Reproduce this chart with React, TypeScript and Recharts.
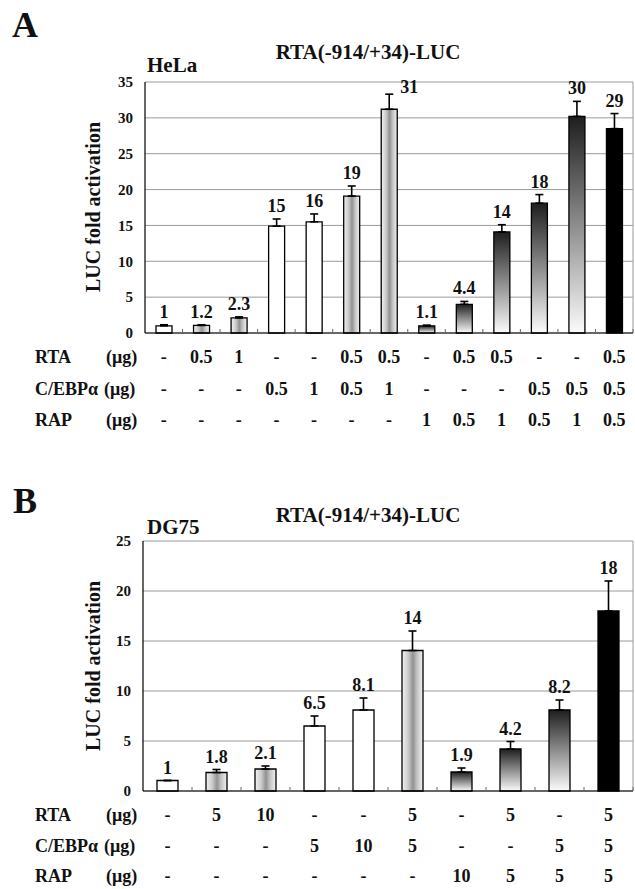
import React from 'react';
import { BarChart, Bar, XAxis, YAxis, CartesianGrid, ErrorBar, Cell, LabelList } from 'recharts';

const FONT = '"Liberation Serif", "Times New Roman", Times, serif';

// ---------- Panel A (HeLa) ----------
const categoriesA = ['a1', 'a2', 'a3', 'a4', 'a5', 'a6', 'a7', 'a8', 'a9', 'a10', 'a11', 'a12', 'a13'];
const valuesA = [1.0, 1.05, 2.1, 14.9, 15.5, 19.1, 31.2, 1.0, 4.0, 14.1, 18.1, 30.2, 28.5];
const errorsA = [0.15, 0.1, 0.15, 1.0, 1.1, 1.4, 2.1, 0.1, 0.4, 1.0, 1.2, 2.1, 2.1];
const labelsA = ['1', '1.2', '2.3', '15', '16', '19', '31', '1.1', '4.4', '14', '18', '30', '29'];
const rtaA = ['-', '0.5', '1', '-', '-', '0.5', '0.5', '-', '0.5', '0.5', '-', '-', '0.5'];
const cebpA = ['-', '-', '-', '0.5', '1', '0.5', '1', '-', '-', '-', '0.5', '0.5', '0.5'];
const rapA = ['-', '-', '-', '-', '-', '-', '-', '1', '0.5', '1', '0.5', '1', '0.5'];
const yTicksA = [0, 5, 10, 15, 20, 25, 30, 35];

// ---------- Panel B (DG75) ----------
const categoriesB = ['b1', 'b2', 'b3', 'b4', 'b5', 'b6', 'b7', 'b8', 'b9', 'b10'];
const valuesB = [1.05, 1.85, 2.2, 6.5, 8.1, 14.05, 1.9, 4.2, 8.1, 18.0];
const errorsB = [0, 0.3, 0.3, 1.0, 1.2, 1.95, 0.4, 0.75, 1.0, 3.0];
const labelsB = ['1', '1.8', '2.1', '6.5', '8.1', '14', '1.9', '4.2', '8.2', '18'];
const rtaB = ['-', '5', '10', '-', '-', '5', '-', '5', '-', '5'];
const cebpB = ['-', '-', '-', '5', '10', '5', '-', '-', '5', '5'];
const rapB = ['-', '-', '-', '-', '-', '-', '10', '5', '5', '5'];
const yTicksB = [0, 5, 10, 15, 20, 25];

const rowNames = ['RTA', 'C/EBPα', 'RAP'];

type Row = { cat: string; value: number; err: number[]; label: string; rta: string; cebp: string; rap: string };

function buildRows(cats: string[], vals: number[], errs: number[], labels: string[], rta: string[], cebp: string[], rap: string[]): Row[] {
  return cats.map((c, i) => ({ cat: c, value: vals[i], err: [0, errs[i]], label: labels[i], rta: rta[i], cebp: cebp[i], rap: rap[i] }));
}

const dataA = buildRows(categoriesA, valuesA, errorsA, labelsA, rtaA, cebpA, rapA);
const dataB = buildRows(categoriesB, valuesB, errorsB, labelsB, rtaB, cebpB, rapB);

function fillFor(r: Row, prefix: string) {
  const has = (v: string) => v !== '-';
  if (has(r.rta) && has(r.cebp) && has(r.rap)) return '#000000';
  if (has(r.rap)) return `url(#${prefix}-vgrad)`;
  if (has(r.rta)) return `url(#${prefix}-hgrad)`;
  return '#ffffff';
}

function makeLabel(data: Row[], domainMax: number) {
  return (props: any) => {
    const x = Number(props.x);
    const y = Number(props.y);
    const width = Number(props.width);
    const height = Number(props.height);
    let idx = props.index;
    if (idx === undefined || idx === null) idx = data.findIndex((d) => d.label === props.value);
    const row = data[idx];
    if (!row) return null;
    const pxPer = height / row.value;
    const errTop = y - row.err[1] * pxPer;
    const plotTop = y + height - domainMax * pxPer;
    let tx = x + width / 2;
    let ty = errTop - 7;
    let anchor: 'middle' | 'start' = 'middle';
    if (ty - 10 < plotTop) {
      tx = x + width / 2 + 11;
      ty = errTop - 1;
      anchor = 'start';
    }
    return (
      <text x={tx} y={ty} textAnchor={anchor} fontFamily={FONT} fontWeight="bold" fontSize={18} fill="#111">
        {row.label}
      </text>
    );
  };
}

function makeTick(data: Row[], baselines: number[], unitX: number[]) {
  return (props: any) => {
    const { x, y, payload, index } = props;
    const i = typeof index === 'number' ? index : data.findIndex((d) => d.cat === payload.value);
    const row = data[i];
    if (!row) return null;
    const half = payload && typeof payload.offset === 'number' && payload.offset > 0 ? payload.offset : 0;
    const vals = [row.rta, row.cebp, row.rap];
    return (
      <g>
        {half > 0 && <line x1={x + half} x2={x + half} y1={y} y2={y - 4} stroke="#666" strokeWidth={1} />}
        {vals.map((v, k) => (
          <text key={k} x={x} y={y + baselines[k]} textAnchor="middle" fontFamily={FONT} fontWeight="bold" fontSize={18} fill="#111">
            {v}
          </text>
        ))}
        {i === 0 &&
          rowNames.map((n, k) => (
            <g key={'n' + k}>
              <text x={35} y={y + baselines[k]} fontFamily={FONT} fontWeight="bold" fontSize={18} fill="#111">
                {n}
              </text>
              <text x={unitX[k]} y={y + baselines[k]} fontFamily={FONT} fontWeight="bold" fontSize={18} fill="#111">
                (μg)
              </text>
            </g>
          ))}
      </g>
    );
  };
}

function Gradients({ prefix }: { prefix: string }) {
  return (
    <defs>
      <linearGradient id={`${prefix}-hgrad`} x1="0" y1="0" x2="1" y2="0">
        <stop offset="0%" stopColor="#f2f2f2" />
        <stop offset="30%" stopColor="#cacaca" />
        <stop offset="52%" stopColor="#929292" />
        <stop offset="72%" stopColor="#c4c4c4" />
        <stop offset="100%" stopColor="#f2f2f2" />
      </linearGradient>
      <linearGradient id={`${prefix}-vgrad`} x1="0" y1="0" x2="0" y2="1">
        <stop offset="0%" stopColor="#1e1e1e" />
        <stop offset="100%" stopColor="#fbfbfb" />
      </linearGradient>
    </defs>
  );
}

type PanelProps = {
  prefix: string;
  data: Row[];
  ticks: number[];
  domainMax: number;
  top: number;
  marginTop: number;
  plotHeight: number;
  yWidth: number;
  barSize: number;
  baselines: number[];
};

function Panel({ prefix, data, ticks, domainMax, top, marginTop, plotHeight, yWidth, barSize, baselines }: PanelProps) {
  const axisH = 100;
  const height = marginTop + plotHeight + axisH;
  return (
    <div style={{ position: 'absolute', left: 0, top, width: 635, height }}>
      <BarChart width={635} height={height} data={data} margin={{ top: marginTop, right: 2, bottom: 0, left: 0 }} barCategoryGap={0}>
        <Gradients prefix={prefix} />
        <CartesianGrid
          stroke="#9a9a9a"
          strokeWidth={1}
          vertical={true}
          verticalCoordinatesGenerator={(p: any) => [p.offset.left + p.offset.width]}
        />
        <XAxis
          dataKey="cat"
          height={axisH}
          interval={0}
          tickSize={0}
          tickMargin={0}
          tickLine={false}
          axisLine={{ stroke: '#000', strokeWidth: 1.2 }}
          tick={makeTick(data, baselines, [106, 104, 106])}
        />
        <YAxis
          width={yWidth}
          domain={[0, domainMax]}
          ticks={ticks}
          interval={0}
          tickSize={0}
          tickMargin={12}
          tickLine={false}
          axisLine={{ stroke: '#000', strokeWidth: 1.2 }}
          tick={{ fontFamily: FONT, fontWeight: 'bold', fontSize: 15, fill: '#111' }}
        />
        <Bar dataKey="value" barSize={barSize} stroke="#000" strokeWidth={1.3} isAnimationActive={false}>
          {data.map((r, i) => (
            <Cell key={i} fill={fillFor(r, prefix)} />
          ))}
          <ErrorBar dataKey="err" direction="y" width={4} stroke="#000" strokeWidth={1.6} isAnimationActive={false} />
          <LabelList dataKey="label" content={makeLabel(data, domainMax)} />
        </Bar>
      </BarChart>
    </div>
  );
}

const txt = { fontFamily: FONT, fontWeight: 'bold' as const, fill: '#111' };

export default function App() {
  return (
    <div style={{ position: 'absolute', left: 0, top: 0, width: 635, height: 889, overflow: 'hidden', background: '#fff' }}>
      <Panel prefix="pa" data={dataA} ticks={yTicksA} domainMax={35} top={0} marginTop={82} plotHeight={251} yWidth={145} barSize={16} baselines={[30, 62, 93]} />
      <Panel prefix="pb" data={dataB} ticks={yTicksB} domainMax={25} top={460} marginTop={81} plotHeight={250} yWidth={143} barSize={21} baselines={[30, 61, 91]} />
      <svg width={635} height={889} style={{ position: 'absolute', left: 0, top: 0, pointerEvents: 'none' }}>
        <text x={12} y={37} fontSize={36} {...txt}>A</text>
        <text x={368} y={59} fontSize={21} textAnchor="middle" {...txt}>RTA(-914/+34)-LUC</text>
        <text x={147} y={72} fontSize={21} {...txt}>HeLa</text>
        <text x={0} y={0} fontSize={20} textAnchor="middle" transform="translate(100,207) rotate(-90)" {...txt}>LUC fold activation</text>

        <text x={13} y={513} fontSize={36} {...txt}>B</text>
        <text x={368} y={522} fontSize={21} textAnchor="middle" {...txt}>RTA(-914/+34)-LUC</text>
        <text x={147} y={534} fontSize={21} {...txt}>DG75</text>
        <text x={0} y={0} fontSize={20} textAnchor="middle" transform="translate(100,666) rotate(-90)" {...txt}>LUC fold activation</text>
      </svg>
    </div>
  );
}
